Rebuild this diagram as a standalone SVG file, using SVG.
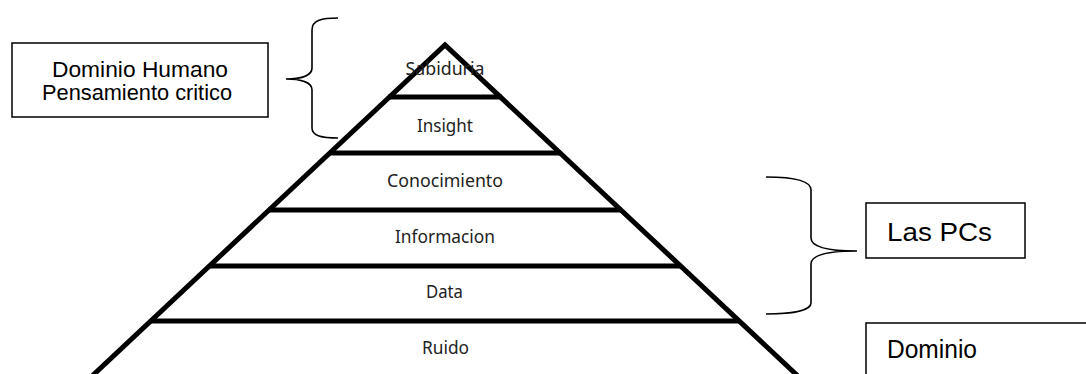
<svg xmlns="http://www.w3.org/2000/svg" width="1086" height="374" viewBox="0 0 1086 374">
<style>
.box{fill:#fff;stroke:#000;stroke-width:1.5}
.bt{font-family:"Liberation Sans",Arial,sans-serif;fill:#000}
.pl{stroke:#000;stroke-width:5;fill:none}
.pt{font-family:"Noto Sans","Open Sans",sans-serif;font-size:18.5px;fill:#222;text-anchor:middle}
.br{fill:none;stroke:#000;stroke-width:1.6}
</style>
<rect width="1086" height="374" fill="#fff"/>
<g id="pyramid">
<polyline class="pl" points="90,378 445,45 800,378" stroke-linejoin="miter"/>
<g id="sabiduria"><text class="pt" x="445" y="75" textLength="79" lengthAdjust="spacingAndGlyphs">Sabiduria</text></g>
<line class="pl" x1="388" y1="97" x2="502" y2="97"/>
<g id="insight"><text class="pt" x="445" y="132" textLength="56" lengthAdjust="spacingAndGlyphs">Insight</text></g>
<line class="pl" x1="329" y1="153" x2="561" y2="153"/>
<g id="conocimiento"><text class="pt" x="445" y="187" textLength="116" lengthAdjust="spacingAndGlyphs">Conocimiento</text></g>
<line class="pl" x1="268" y1="210" x2="622" y2="210"/>
<g id="informacion"><text class="pt" x="445" y="243" textLength="100" lengthAdjust="spacingAndGlyphs">Informacion</text></g>
<line class="pl" x1="209" y1="266" x2="681" y2="266"/>
<g id="data"><text class="pt" x="444.5" y="298" textLength="37" lengthAdjust="spacingAndGlyphs">Data</text></g>
<line class="pl" x1="150" y1="321" x2="740" y2="321"/>
<g id="ruido"><text class="pt" x="445.5" y="354" textLength="47" lengthAdjust="spacingAndGlyphs">Ruido</text></g>
</g>
<g id="box-humano">
<rect class="box" x="12" y="43" width="256" height="74"/>
<text class="bt" x="52" y="77" font-size="22" textLength="176" lengthAdjust="spacingAndGlyphs">Dominio Humano</text>
<text class="bt" x="42" y="100" font-size="22" textLength="190" lengthAdjust="spacingAndGlyphs">Pensamiento critico</text>
</g>
<g id="box-pcs">
<rect class="box" x="866" y="203" width="159" height="55"/>
<text class="bt" x="887" y="241" font-size="26" textLength="105" lengthAdjust="spacingAndGlyphs">Las PCs</text>
</g>
<g id="box-dominio">
<rect class="box" x="866" y="323" width="240" height="60"/>
<text class="bt" x="887" y="358" font-size="25" textLength="90" lengthAdjust="spacingAndGlyphs">Dominio</text>
</g>
<g id="connectors">
<path class="br" d="M338,18 C322,18 312,20 312,30 L312,68 C312,76 300,79 286,79 C300,79 312,82 312,90 L312,128 C312,136 322,138 338,138"/>
<path class="br" d="M766,177 C790,177 811,180 811,190 L811,238 C811,248 830,251 857,251 C830,251 811,254 811,264 L811,303 C811,311 790,314 766,314"/>
</g>
</svg>
